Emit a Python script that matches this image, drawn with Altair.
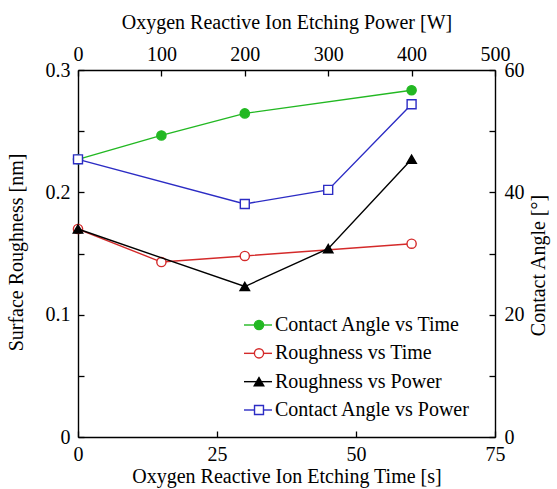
import altair as alt
import pandas as pd

# ---- data ----
times = [0, 15, 30, 60]
angle_vs_time = [45.4, 49.3, 52.9, 56.7]
rough_vs_time = [0.170, 0.143, 0.148, 0.158]

powers = [0, 200, 300, 400]
rough_vs_power = [0.170, 0.123, 0.154, 0.227]
angle_vs_power = [45.4, 38.1, 40.4, 54.4]

series_names = ["Contact Angle vs Time", "Roughness vs Time",
                "Roughness vs Power", "Contact Angle vs Power"]
series_colors = ["#22b822", "#d42a2a", "#000000", "#2c2cc4"]
series_shapes = ["circle", "circle", "triangle-up", "square"]
series_sizes = [85, 85, 90, 80]
series_filled = [True, False, True, False]

time_ticks = [0, 25, 50, 75]
power_ticks = [0, 100, 200, 300, 400, 500]
rough_ticks = [0, 0.05, 0.1, 0.15, 0.2, 0.25, 0.3]
angle_ticks = [0, 10, 20, 30, 40, 50, 60]

FONT = "Liberation Serif"
FS = 20
W, H = 417, 367
TK = 6

df_time = pd.DataFrame({"t": times, "angle": angle_vs_time, "rough": rough_vs_time})
df_power = pd.DataFrame({"p": powers, "angle": angle_vs_power, "rough": rough_vs_power})
df_leg = pd.DataFrame({"name": series_names, "color": series_colors})

tscale = alt.Scale(domain=[0, 75], nice=False, zero=False)
pscale = alt.Scale(domain=[0, 500], nice=False, zero=False)
rscale = alt.Scale(domain=[0, 0.3], nice=False, zero=False)
ascale = alt.Scale(domain=[0, 60], nice=False, zero=False)

common_axis = dict(
    labelFont=FONT, titleFont=FONT, labelFontSize=FS, titleFontSize=FS,
    titleFontWeight="normal", labelColor="black", titleColor="black",
    domainColor="black", domainWidth=1.4, ticks=False, grid=True,
    gridColor="black", gridWidth=1.3, gridOpacity=1, labelFlush=False,
    labelOverlap=False,
)

ax_bottom = alt.Axis(orient="bottom", values=time_ticks, title="Oxygen Reactive Ion Etching Time [s]",
                     labelPadding=23, labelBaseline="alphabetic",
                     titleY=45, titleBaseline="alphabetic",
                     gridDash=[0, H - TK, TK, 2000], **common_axis)
ax_top = alt.Axis(orient="top", values=power_ticks, title="Oxygen Reactive Ion Etching Power [W]",
                  labelPadding=10, labelBaseline="alphabetic",
                  titleY=-42, titleBaseline="alphabetic",
                  gridDash=[0, H - TK, TK, 2000], **common_axis)
ax_left = alt.Axis(orient="left", values=rough_ticks, title="Surface Roughness [nm]",
                   labelExpr="(round(datum.value*100) % 10 != 0) ? '' : (datum.value == 0 ? '0' : format(datum.value, '.1f'))",
                   labelPadding=8, titleX=-56, titleY=182, titleAngle=270,
                   titleBaseline="alphabetic", titleAlign="center",
                   gridDash=[TK, 2000], **common_axis)
ax_right = alt.Axis(orient="right", values=angle_ticks, title="Contact Angle [°]",
                    labelExpr="(datum.value % 20 != 0) ? '' : datum.label",
                    labelPadding=9, titleX=49, titleY=195, titleAngle=270,
                    titleBaseline="alphabetic", titleAlign="center",
                    gridDash=[TK, 2000], **common_axis)


def series(df, xfield, xscale, xaxis, yfield, yscale, yaxis, i):
    color = series_colors[i]
    pt = alt.OverlayMarkDef(shape=series_shapes[i], size=series_sizes[i],
                            filled=True, fill=color if series_filled[i] else "white",
                            stroke=color, strokeWidth=1.4, opacity=1)
    return alt.Chart(df).mark_line(color=color, strokeWidth=1.4, point=pt).encode(
        x=alt.X(f"{xfield}:Q", scale=xscale, axis=xaxis),
        y=alt.Y(f"{yfield}:Q", scale=yscale, axis=yaxis),
    )


green = series(df_time, "t", tscale, ax_bottom, "angle", ascale, ax_right, 0)
red = series(df_time, "t", tscale, None, "rough", rscale, ax_left, 1)
black = series(df_power, "p", pscale, ax_top, "rough", rscale, None, 2)
blue = series(df_power, "p", pscale, None, "angle", ascale, None, 3)

# ---- legend (inside the plot, lower right) ----
lscale = alt.Scale(type="point", domain=series_names, range=[255, 340], padding=0)
ly = alt.Y("name:N", scale=lscale, axis=None, sort=series_names)
cscale = alt.Scale(domain=series_names, range=series_colors)
leg_rule = alt.Chart(df_leg).mark_rule(strokeWidth=1.4).encode(
    x=alt.value(166), x2=alt.value(194), y=ly,
    color=alt.Color("name:N", scale=cscale, legend=None),
)
leg_pts = []
for i, nm in enumerate(series_names):
    c = series_colors[i]
    leg_pts.append(
        alt.Chart(df_leg).transform_filter(alt.datum.name == nm).mark_point(
            shape=series_shapes[i], size=series_sizes[i],
            filled=True, fill=c if series_filled[i] else "white",
            stroke=c, strokeWidth=1.4, opacity=1,
        ).encode(x=alt.value(181), y=ly)
    )
leg_text = alt.Chart(df_leg).mark_text(
    align="left", baseline="middle", font=FONT, fontSize=FS, color="black"
).encode(x=alt.value(197), y=ly, text="name:N")

chart = alt.layer(
    green, red, black, blue, leg_rule, *leg_pts, leg_text
).resolve_scale(
    x="independent", y="independent", color="independent"
).properties(
    width=W, height=H,
    autosize=alt.AutoSizeParams(type="none"),
    padding={"left": 78, "top": 70, "right": 62, "bottom": 52},
).configure_view(stroke="black", strokeWidth=1.4).configure_axis(
    labelFont=FONT, titleFont=FONT
).configure(background="white", font=FONT)

chart.save("out.html", embed_options={"renderer": "svg", "actions": False})
